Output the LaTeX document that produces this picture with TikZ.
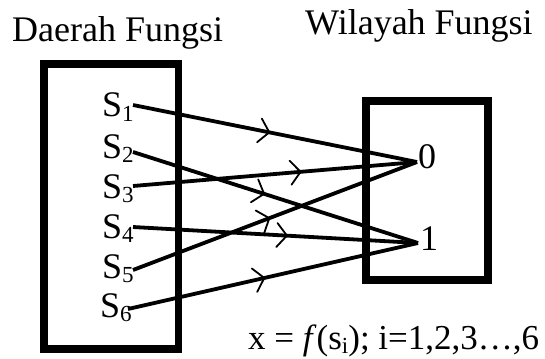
\documentclass[tikz,border=0pt]{standalone}
\usepackage{fontspec}
\setmainfont{Liberation Serif}
\usetikzlibrary{decorations.markings}
\tikzset{
  box/.style={draw, line width=7.5pt},
  lbl/.style={anchor=base west, inner sep=0pt, font=\fontsize{36}{40}\selectfont},
  conn/.style={line width=3.8pt, postaction={decorate}, decoration={markings,
      mark=at position #1 with {\draw[line width=1.8pt, line cap=round, line join=miter] (-10pt,12pt) -- (0pt,0pt) -- (-10pt,-12pt);}}},
  conn/.default=0.5
}
\newcommand{\sub}[1]{\raisebox{-0.25ex}{\fontsize{23}{23}\selectfont #1}}
\begin{document}
\begin{tikzpicture}[x=1pt,y=-1pt]
\useasboundingbox (0,0) rectangle (545,358);
% boxes
\draw[box] (44,64) rectangle (178.5,349);
\draw[box] (366,101) rectangle (488,280);
% titles
\node[lbl] (t1) at (12,42) {Daerah Fungsi};
\node[lbl] (t2) at (305,35) {Wilayah Fungsi};
% domain labels
\node[lbl] (s1) at (102,117) {S\sub{1}};
\node[lbl] (s2) at (102,158) {S\sub{2}};
\node[lbl] (s3) at (102,198) {S\sub{3}};
\node[lbl] (s4) at (102,238) {S\sub{4}};
\node[lbl] (s5) at (102,278) {S\sub{5}};
\node[lbl] (s6) at (100,317) {S\sub{6}};
% range labels
\node[lbl] (z) at (418,168) {0};
\node[lbl] (o) at (420,250) {1};
% connector anchors
\coordinate (a1) at (133,105);
\coordinate (a2) at (133,152);
\coordinate (a3) at (133,186);
\coordinate (a4) at (133,227);
\coordinate (a5) at (133,270);
\coordinate (a6) at (128,309);
\coordinate (b0) at (417,162);
\coordinate (b1) at (418,243);
\draw[conn=0.48] (a1) -- (b0);
\draw[conn=0.46] (a2) -- (b1);
\draw[conn=0.59] (a3) -- (b0);
\draw[conn=0.54] (a4) -- (b1);
\draw[conn=0.48] (a5) -- (b0);
\draw[conn=0.47] (a6) -- (b1);
% formula
\node[lbl, font=\fontsize{35}{40}\selectfont] (fx) at (248,349) {x = \textit{f}(s\sub{i}); i=1,2,3\ldots,6};
\end{tikzpicture}
\end{document}
